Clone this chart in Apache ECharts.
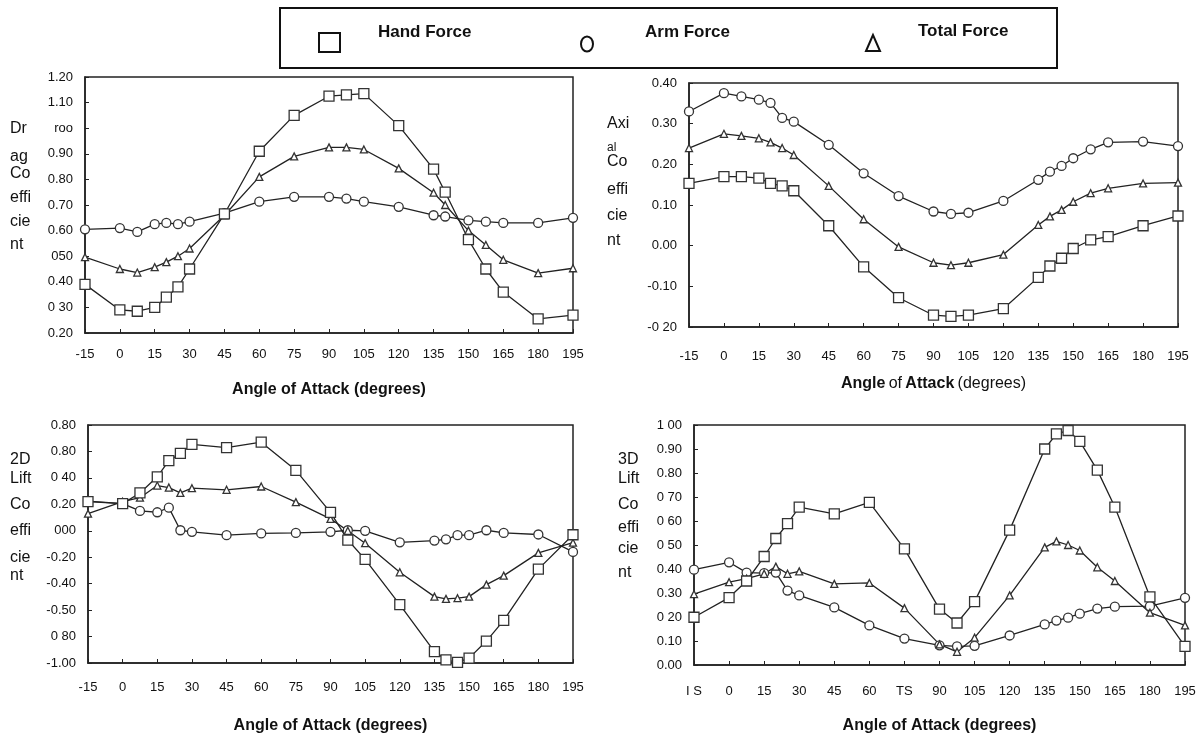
<!DOCTYPE html>
<html>
<head>
<meta charset="utf-8">
<script src="https://cdn.jsdelivr.net/npm/echarts@6/dist/echarts.min.js"></script>
<style>
  html, body { margin: 0; padding: 0; background: #ffffff; }
  #chart { width: 1200px; height: 735px; }
</style>
</head>
<body>
<div id="chart"></div>
<script>
// ---------------- DATA ----------------
const seriesNames = ['Hand Force', 'Arm Force', 'Total Force'];

// Panel 1: Drag coefficient
const dragAngles = [-15, 0, 7.5, 15, 20, 25, 30, 45, 60, 75, 90, 97.5, 105, 120, 135, 140, 150, 157.5, 165, 180, 195];
const dragHand  = [0.39, 0.29, 0.285, 0.30, 0.34, 0.38, 0.45, 0.665, 0.91, 1.05, 1.125, 1.13, 1.135, 1.01, 0.84, 0.75, 0.565, 0.45, 0.36, 0.255, 0.27];
const dragArm   = [0.605, 0.61, 0.595, 0.625, 0.63, 0.625, 0.635, 0.668, 0.713, 0.732, 0.732, 0.725, 0.713, 0.693, 0.66, 0.655, 0.64, 0.635, 0.63, 0.63, 0.65];
const dragTotal = [0.496, 0.45, 0.436, 0.457, 0.477, 0.50, 0.53, 0.66, 0.81, 0.89, 0.925, 0.925, 0.917, 0.843, 0.748, 0.70, 0.60, 0.544, 0.486, 0.434, 0.453];
const dragTickLabels = ['0.20', '0 30', '0.40', '050', '0.60', '0.70', '0.80', '0.90', 'roo', '1.10', '1.20'];

// Panel 2: Axial coefficient
const axialAngles = [-15, 0, 7.5, 15, 20, 25, 30, 45, 60, 75, 90, 97.5, 105, 120, 135, 140, 145, 150, 157.5, 165, 180, 195];
const axialHand  = [0.153, 0.17, 0.17, 0.166, 0.153, 0.147, 0.135, 0.049, -0.052, -0.128, -0.171, -0.174, -0.171, -0.155, -0.078, -0.05, -0.031, -0.007, 0.014, 0.022, 0.049, 0.073];
const axialArm   = [0.33, 0.375, 0.367, 0.359, 0.351, 0.314, 0.305, 0.248, 0.178, 0.122, 0.084, 0.078, 0.081, 0.110, 0.162, 0.182, 0.196, 0.215, 0.237, 0.254, 0.256, 0.245];
const axialTotal = [0.24, 0.275, 0.27, 0.264, 0.254, 0.24, 0.223, 0.147, 0.065, -0.003, -0.042, -0.048, -0.042, -0.022, 0.051, 0.072, 0.088, 0.108, 0.129, 0.141, 0.153, 0.155];
const axialTickLabels = ['-0 20', '-0.10', '0.00', '0.10', '0.20', '0.30', '0.40'];

// Panel 3: 2D lift coefficient
const lift2Angles = [-15, 0, 7.5, 15, 20, 25, 30, 45, 60, 75, 90, 97.5, 105, 120, 135, 140, 145, 150, 157.5, 165, 180, 195];
const lift2Hand  = [0.22, 0.205, 0.286, 0.408, 0.53, 0.585, 0.653, 0.629, 0.67, 0.457, 0.139, -0.07, -0.216, -0.559, -0.914, -0.976, -0.995, -0.963, -0.834, -0.677, -0.29, -0.03];
const lift2Arm   = [0.225, 0.205, 0.15, 0.14, 0.175, 0.004, -0.008, -0.033, -0.02, -0.016, -0.008, 0.004, 0.0, -0.087, -0.074, -0.065, -0.033, -0.033, 0.004, -0.016, -0.028, -0.16];
const lift2Total = [0.13, 0.22, 0.25, 0.342, 0.327, 0.286, 0.322, 0.31, 0.335, 0.217, 0.09, 0.0, -0.094, -0.314, -0.498, -0.515, -0.51, -0.498, -0.407, -0.339, -0.167, -0.09];
const lift2TickLabels = ['-1.00', '0 80', '-0.50', '-0.40', '-0.20', '000', '0.20', '0 40', '0.80', '0.80'];

// Panel 4: 3D lift coefficient
const lift3Angles = [-15, 0, 7.5, 15, 20, 25, 30, 45, 60, 75, 90, 97.5, 105, 120, 135, 140, 145, 150, 157.5, 165, 180, 195];
const lift3Hand  = [0.199, 0.281, 0.35, 0.452, 0.527, 0.589, 0.658, 0.63, 0.678, 0.484, 0.233, 0.175, 0.264, 0.562, 0.90, 0.963, 0.977, 0.932, 0.812, 0.658, 0.284, 0.078];
const lift3Arm   = [0.397, 0.428, 0.385, 0.383, 0.385, 0.31, 0.29, 0.24, 0.165, 0.11, 0.082, 0.078, 0.08, 0.123, 0.169, 0.185, 0.197, 0.214, 0.235, 0.243, 0.245, 0.28];
const lift3Total = [0.295, 0.345, 0.36, 0.38, 0.41, 0.38, 0.39, 0.338, 0.342, 0.237, 0.086, 0.055, 0.114, 0.29, 0.49, 0.515, 0.50, 0.477, 0.407, 0.35, 0.218, 0.165];
const lift3TickLabels = ['0.00', '0.10', '0 20', '0.30', '0.40', '0 50', '0 60', '0 70', '0.80', '0.90', '1 00'];

// x-axis tick labels
const angleTickLabels = ['-15', '0', '15', '30', '45', '60', '75', '90', '105', '120', '135', '150', '165', '180', '195'];
const angleTickLabels3D = ['I S', '0', '15', '30', '45', '60', 'TS', '90', '105', '120', '135', '150', '165', '180', '195'];

// y-axis name fragments
const dragName  = ['Dr', 'ag', 'Co', 'effi', 'cie', 'nt'];
const axialName = ['Axi', 'al', 'Co', 'effi', 'cie', 'nt'];
const lift2Name = ['2D', 'Lift', 'Co', 'effi', 'cie', 'nt'];
const lift3Name = ['3D', 'Lift', 'Co', 'effi', 'cie', 'nt'];
const xTitle = 'Angle of Attack (degrees)';

// ---------------- CHART ----------------
const FONT = 'Liberation Sans, Arial, sans-serif';
const chart = echarts.init(document.getElementById('chart'));

const grids = [
  { left: 85,  top: 77,  width: 488, height: 256 },
  { left: 689, top: 83,  width: 489, height: 244 },
  { left: 88,  top: 425, width: 485, height: 245 },
  { left: 694, top: 425, width: 491, height: 243 }
].map(g => Object.assign({ show: true, borderColor: '#222', borderWidth: 1.5, backgroundColor: '#fff' }, g));

function xAxisFor(gi, labels, labelMargin, nameGap, rich) {
  return {
    type: 'value', gridIndex: gi, min: -15, max: 195, interval: 15,
    axisLine: { show: true, onZero: false, lineStyle: { color: '#222', width: 1.5 } },
    axisTick: { show: true, inside: true, length: 4, lineStyle: { color: '#222' } },
    splitLine: { show: false },
    axisLabel: {
      color: '#111', fontFamily: FONT, fontSize: 13, margin: labelMargin,
      formatter: v => labels[Math.round((v + 15) / 15)]
    },
    name: rich ? '{b|Angle} {n|of} {b|Attack} {n|(degrees)}' : xTitle,
    nameLocation: 'middle', nameGap: nameGap,
    nameTextStyle: rich ? {
      rich: {
        b: { fontFamily: FONT, fontSize: 16, fontWeight: 'bold', color: '#111' },
        n: { fontFamily: FONT, fontSize: 16, color: '#111' }
      }
    } : { fontFamily: FONT, fontSize: 16, fontWeight: 'bold', color: '#111' }
  };
}

function yAxisFor(gi, min, max, interval, labels) {
  return {
    type: 'value', gridIndex: gi, min: min, max: max, interval: interval,
    axisLine: { show: true, onZero: false, lineStyle: { color: '#222', width: 1.5 } },
    axisTick: { show: true, inside: true, length: 4, lineStyle: { color: '#222' } },
    splitLine: { show: false },
    axisLabel: {
      color: '#111', fontFamily: FONT, fontSize: 13, margin: 12,
      formatter: v => labels[Math.round((v - min) / interval)]
    }
  };
}

const symbols = {
  'Hand Force':  { symbol: 'rect', size: 10 },
  'Arm Force':   { symbol: 'circle', size: 9 },
  'Total Force': { symbol: 'triangle', size: 7 }
};

function mk(name, gi, xs, ys) {
  const s = symbols[name];
  return {
    name: name, type: 'line', xAxisIndex: gi, yAxisIndex: gi,
    data: xs.map((x, i) => [x, ys[i]]),
    symbol: s.symbol, symbolSize: s.size, showSymbol: true,
    lineStyle: { color: '#222', width: 1.3 },
    itemStyle: { color: '#fff', borderColor: '#333', borderWidth: 1.3 },
    animation: false, z: 3
  };
}

function nameBlock(x, ys, parts, fs) {
  return parts.map((p, i) => ({
    type: 'text', left: x, top: ys[i],
    style: { text: p, fontFamily: FONT, fontSize: fs[i] || 16, fill: '#111' }
  }));
}

const graphics = [].concat(
  // legend box
  [{ type: 'rect', shape: { x: 280, y: 8, width: 777, height: 60 },
     style: { fill: '#fff', stroke: '#111', lineWidth: 2 }, z: 10 },
   { type: 'rect', shape: { x: 319, y: 33, width: 21, height: 19 },
     style: { fill: '#fff', stroke: '#111', lineWidth: 2 }, z: 11 },
   { type: 'ellipse', shape: { cx: 587, cy: 44, rx: 6, ry: 7.5 },
     style: { fill: '#fff', stroke: '#111', lineWidth: 2 }, z: 11 },
   { type: 'polygon', shape: { points: [[873, 35], [866, 51], [880, 51]] },
     style: { fill: '#fff', stroke: '#111', lineWidth: 2 }, z: 11 },
   { type: 'text', left: 378, top: 24,
     style: { text: seriesNames[0], fontFamily: FONT, fontSize: 17, fontWeight: 'bold', fill: '#111' }, z: 11 },
   { type: 'text', left: 645, top: 24,
     style: { text: seriesNames[1], fontFamily: FONT, fontSize: 17, fontWeight: 'bold', fill: '#111' }, z: 11 },
   { type: 'text', left: 918, top: 23,
     style: { text: seriesNames[2], fontFamily: FONT, fontSize: 17, fontWeight: 'bold', fill: '#111' }, z: 11 }
  ],
  nameBlock(10, [121, 149, 166, 190, 214, 237], dragName, []),
  nameBlock(607, [116, 142, 154, 182, 208, 233], axialName, [16, 12]),
  nameBlock(10, [452, 471, 497, 523, 550, 568], lift2Name, []),
  nameBlock(618, [452, 471, 497, 520, 541, 565], lift3Name, [])
);

const option = {
  backgroundColor: '#ffffff',
  animation: false,
  grid: grids,
  xAxis: [
    xAxisFor(0, angleTickLabels, 15, 49, false),
    xAxisFor(1, angleTickLabels, 23, 49, true),
    xAxisFor(2, angleTickLabels, 18, 55, false),
    xAxisFor(3, angleTickLabels3D, 20, 53, false)
  ],
  yAxis: [
    yAxisFor(0, 0.2, 1.2, 0.1, dragTickLabels),
    yAxisFor(1, -0.2, 0.4, 0.1, axialTickLabels),
    yAxisFor(2, -1.0, 0.8, 0.2, lift2TickLabels),
    yAxisFor(3, 0, 1.0, 0.1, lift3TickLabels)
  ],
  series: [
    mk(seriesNames[1], 0, dragAngles, dragArm),
    mk(seriesNames[2], 0, dragAngles, dragTotal),
    mk(seriesNames[0], 0, dragAngles, dragHand),
    mk(seriesNames[1], 1, axialAngles, axialArm),
    mk(seriesNames[2], 1, axialAngles, axialTotal),
    mk(seriesNames[0], 1, axialAngles, axialHand),
    mk(seriesNames[1], 2, lift2Angles, lift2Arm),
    mk(seriesNames[2], 2, lift2Angles, lift2Total),
    mk(seriesNames[0], 2, lift2Angles, lift2Hand),
    mk(seriesNames[1], 3, lift3Angles, lift3Arm),
    mk(seriesNames[2], 3, lift3Angles, lift3Total),
    mk(seriesNames[0], 3, lift3Angles, lift3Hand)
  ],
  graphic: graphics
};
chart.setOption(option);
</script>
</body>
</html>
